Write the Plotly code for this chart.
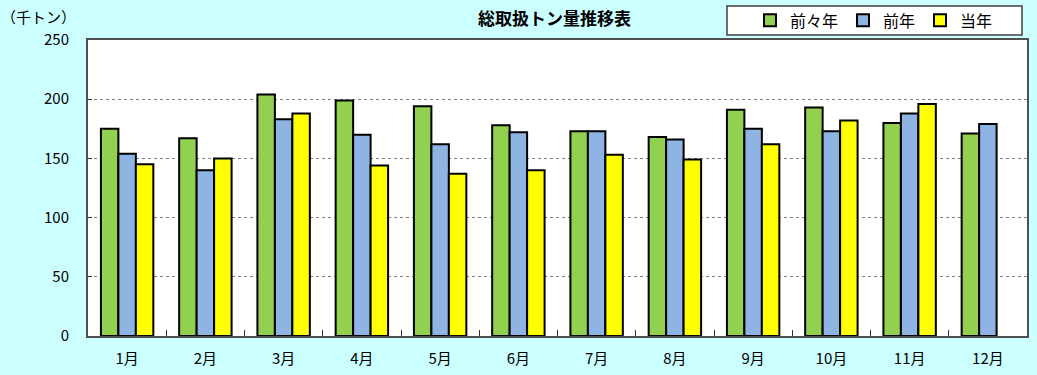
import plotly.graph_objects as go

months = ["1月", "2月", "3月", "4月", "5月", "6月", "7月", "8月", "9月", "10月", "11月", "12月"]
two_years_ago = [175, 167, 204, 199, 194, 178, 173, 168, 191, 193, 180, 171]
last_year = [154, 140, 183, 170, 162, 172, 173, 166, 175, 173, 188, 179]
this_year = [145, 150, 188, 144, 137, 140, 153, 149, 162, 182, 196, None]

series_names = ["前々年", "前年", "当年"]
colors = ["#92D050", "#8DB4E2", "#FFFF00"]
y_ticks = [0, 50, 100, 150, 200, 250]

FONT = "Noto Sans CJK JP, Arial, sans-serif"

fig = go.Figure()
for name, vals, col in zip(series_names, [two_years_ago, last_year, this_year], colors):
    fig.add_trace(go.Bar(
        x=months, y=vals, name=name,
        marker=dict(color=col, line=dict(color="black", width=2)),
    ))

fig.update_layout(
    width=1037, height=375,
    margin=dict(l=88, r=10, t=40, b=39, autoexpand=False),
    paper_bgcolor="#CCFFFF",
    plot_bgcolor="white",
    barmode="group",
    bargap=0.33,
    bargroupgap=0,
    font=dict(family=FONT, size=15, color="black"),
    showlegend=True,
    legend=dict(
        orientation="h",
        x=0.705, xanchor="left",
        y=1.066, yanchor="middle",
        bgcolor="rgba(0,0,0,0)",
        borderwidth=0,
        font=dict(size=16, family=FONT),
        itemwidth=30,
    ),
    shapes=[
        dict(type="rect", xref="paper", yref="paper",
             x0=0.6805, x1=0.9947, y0=1.0169, y1=1.1149,
             fillcolor="white", line=dict(color="#404040", width=1.5), layer="below"),
    ],
    annotations=[
        dict(text="<b>総取扱トン量推移表</b>", xref="paper", yref="paper",
             x=0.497, y=1.075, xanchor="center", yanchor="middle",
             showarrow=False, font=dict(size=17, family=FONT)),
        dict(text="（千トン）", xref="paper", yref="paper",
             x=-0.095, y=1.08, xanchor="left", yanchor="middle",
             showarrow=False, font=dict(size=15, family=FONT)),
    ],
)

fig.update_xaxes(
    showline=True, linecolor="#505050", linewidth=2, mirror=True,
    ticks="inside", tickson="boundaries", ticklen=6, tickcolor="#303030",
    tickfont=dict(size=15), showgrid=False, ticklabelstandoff=8,
)
fig.update_yaxes(
    range=[0, 250], tickvals=y_ticks,
    showline=True, linecolor="#505050", linewidth=2, mirror=True,
    ticks="inside", ticklen=4, tickcolor="#303030",
    showgrid=True, gridcolor="#808080", griddash="dot", gridwidth=1,
    tickfont=dict(size=15), zeroline=False, ticklabelstandoff=14,
)

fig.write_html("out.html", config={"displayModeBar": False},
               post_script="document.body.style.margin='0';")
